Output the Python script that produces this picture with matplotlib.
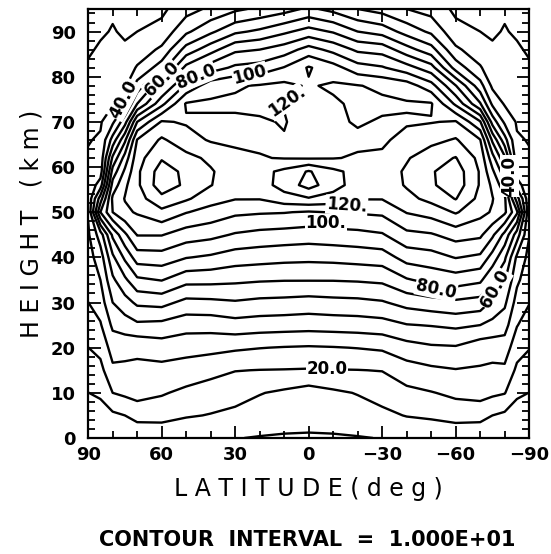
import numpy as np
import matplotlib
matplotlib.use("Agg")
import matplotlib.pyplot as plt
from matplotlib.ticker import MultipleLocator, FixedLocator

# grid: latitude (deg), height (km)
lat = [90, 85, 80, 75, 70, 60, 50, 40, 30, 20, 10, 0,
       -10, -20, -30, -40, -50, -60, -70, -75, -80, -85, -90]
height = [0, 5, 10, 15, 20, 25, 30, 35, 40, 45, 50, 53, 56, 59,
          62, 66, 70, 74, 78, 82, 86, 90, 95]

# one column of values per latitude, bottom to top
columns = [
    [0.5, 5, 9.9, 15, 19.9, 25, 29.9, 33, 36, 38.5, 41, 42, 42, 41.5, 41, 39.5, 37, 35, 33, 31, 29, 27, 25],      # 90
    [1, 6, 11.5, 17, 23, 29, 35, 40, 45, 55, 90, 75, 55, 45, 43, 41, 39, 37, 35, 33, 31, 29, 27],                 # 85
    [2, 8, 20, 28, 34, 42, 50, 58, 68, 82, 110, 112, 104, 94, 82, 64, 48, 39, 35, 33, 31.5, 30.5, 29],            # 80
    [2.5, 10, 22, 28, 33, 45, 56, 68, 82, 98, 118, 120.5, 118, 112, 104, 88, 66, 48, 38, 34, 31, 29, 27],         # 75
    [3, 13, 24, 28, 32, 48, 62, 78, 95, 110.5, 121, 126, 128, 128, 126, 120.5, 100, 70, 54, 41, 34, 30, 26],      # 70
    [1, 14.2, 20.9, 27, 35, 47.1, 63.3, 80.5, 95.7, 110.5, 127.5, 137, 146, 145, 139, 131.5, 121, 97, 79, 55, 42, 33, 28],  # 60
    [0.5, 11, 17.9, 25.4, 33.6, 43.8, 57.1, 73.3, 90.5, 105, 120.5, 131.5, 138, 137.5, 133, 124, 119, 121, 102, 83, 64, 48, 36],  # 50
    [0.5, 9.5, 15.6, 22.9, 32.9, 43.9, 57.7, 73, 88.4, 102.9, 116.3, 124, 130.4, 131, 128, 119, 118.5, 121.5, 116, 95, 76, 58, 42],  # 40
    [0.3, 7.5, 14, 20.3, 31.5, 46, 59, 72, 85, 99, 112, 120.5, 124, 124.5, 122, 118.5, 118.5, 121.5, 119, 102, 88, 68, 48],  # 30
    [-0.5, 5.5, 10.5, 19.8, 30.3, 45, 57.5, 71, 84, 97, 111, 120.5, 125.5, 126.5, 120.5, 118.5, 119.3, 121.5, 120.8, 104, 90, 72, 52],  # 20
    [-1, 4.2, 8.3, 19.6, 29.5, 44.5, 57, 70.5, 83, 96, 110.5, 126, 134, 132.5, 119.5, 119.6, 120.4, 119.7, 122.5, 110.5, 95, 78, 56],  # 10
    [-1.2, 3.8, 5.6, 19.3, 29, 44, 56, 70.5, 82.5, 95, 109, 129, 144, 141, 119, 117, 117, 118, 119, 121, 104, 84, 62],  # 0
    [-1, 4.2, 8.3, 19.6, 29.5, 44.5, 57, 70.5, 83, 96, 110.5, 126, 134, 132.5, 119.5, 118, 118, 118.5, 121.5, 114, 97, 79, 57],  # -10
    [-0.5, 5.5, 10.5, 19.8, 30.3, 45, 57.5, 71, 84, 97, 111, 120.5, 125.5, 126.5, 121, 118, 121, 122, 120.5, 104, 88, 70, 50],  # -20
    [0.3, 7.5, 14, 20.3, 31.5, 46, 59, 72, 85, 99, 112, 120.5, 124, 124.5, 121.5, 118.5, 119, 122, 118, 101, 86, 66, 46],  # -30
    [0.5, 10.5, 17.5, 25.5, 36, 49.5, 63.5, 79, 94, 107.5, 120.5, 127, 131, 131.5, 129, 123, 119, 121, 115, 94, 74, 56, 40],  # -40
    [0.5, 12, 19.5, 28, 38.5, 50.5, 66, 83, 96, 109, 124, 133, 138.5, 139, 136, 127, 119.5, 121, 104, 84, 64, 48, 36],  # -50
    [1, 14.5, 22, 29.5, 39, 52, 68, 85, 100.5, 114, 131, 140.5, 146, 145.5, 140.5, 131, 121, 98, 80.5, 56, 42, 33, 28],  # -60
    [3, 13, 24, 29, 34, 50, 66, 82, 98, 112, 123, 127, 129, 129, 127, 120.5, 101, 71, 54, 41, 34, 30, 26],        # -70
    [2.5, 10, 22, 28, 34, 47, 58, 71, 86, 102, 119, 120.5, 118, 112, 104, 88, 66, 48, 38, 34, 31, 29, 27],        # -75
    [2, 8, 20.5, 28, 35, 44, 52, 61, 72, 87, 112, 112, 104, 94, 82, 64, 48, 39, 35, 33, 31.5, 30.5, 29],          # -80
    [1, 6, 11.5, 18, 24, 30.5, 36, 42, 48, 65, 92, 75, 55, 45, 43, 41, 39, 37, 35, 33, 31, 29, 27],               # -85
    [0.5, 5, 9.9, 15, 20.5, 25, 30.5, 34, 37, 40.5, 42, 42, 42, 41.5, 41, 39.5, 37, 35, 33, 31, 29, 27, 25],      # -90
]
levels = list(range(0, 150, 10))

# inline labels: text, latitude, height, rotation
labels = [
    ("40.0", 75.5, 75, 62), ("60.0", 60, 79.5, 45), ("80.0", 46, 80, 22),
    ("100", 24, 80.5, 15), ("120.", 9, 74.5, 35), ("120.", -15.5, 51.5, -4),
    ("100.", -7, 47.5, 0), ("80.0", -52, 33, -12), ("60.0", -76, 33, 60),
    ("40.0", -82, 58, 90), ("20.0", -7.5, 15.3, 0),
]

field = np.array(columns).T

fig = plt.figure(figsize=(5.51, 5.54), dpi=100)
ax = fig.add_axes([0.16, 0.2094, 0.8004, 0.7744])

ax.contour(lat, height, field, levels=levels, colors="black", linewidths=1.7)

for txt, x, y, rot in labels:
    ax.text(x, y, txt, rotation=rot, rotation_mode="anchor", ha="center", va="center",
            fontsize=12, fontweight="bold", family="DejaVu Sans", zorder=5,
            bbox=dict(facecolor="white", edgecolor="none", pad=0.5))

ax.set_xlim(90, -90)
ax.set_ylim(0, 95)
ax.xaxis.set_major_locator(FixedLocator([90, 60, 30, 0, -30, -60, -90]))
ax.xaxis.set_minor_locator(MultipleLocator(10))
ax.yaxis.set_major_locator(FixedLocator([0, 10, 20, 30, 40, 50, 60, 70, 80, 90]))
ax.yaxis.set_minor_locator(MultipleLocator(2))
ax.tick_params(which="both", direction="in", top=True, right=True, width=1.3)
ax.tick_params(which="major", length=9, labelsize=13)
ax.tick_params(which="minor", length=5)
ax.tick_params(axis="x", which="major", pad=6)
ax.tick_params(axis="y", which="major", pad=9)
for lab in ax.get_xticklabels() + ax.get_yticklabels():
    lab.set_fontweight("bold")
for sp in ax.spines.values():
    sp.set_linewidth(1.6)

ax.set_xlabel("L A T I T U D E ( d e g )", fontsize=17, labelpad=9)
ax.set_ylabel("H E I G H T   ( k m )", fontsize=17, labelpad=5)

fig.text(0.557, 0.025, "CONTOUR  INTERVAL  =  1.000E+01", ha="center", va="center",
         fontsize=15, fontweight="bold")

fig.savefig("out.png", dpi=100)
